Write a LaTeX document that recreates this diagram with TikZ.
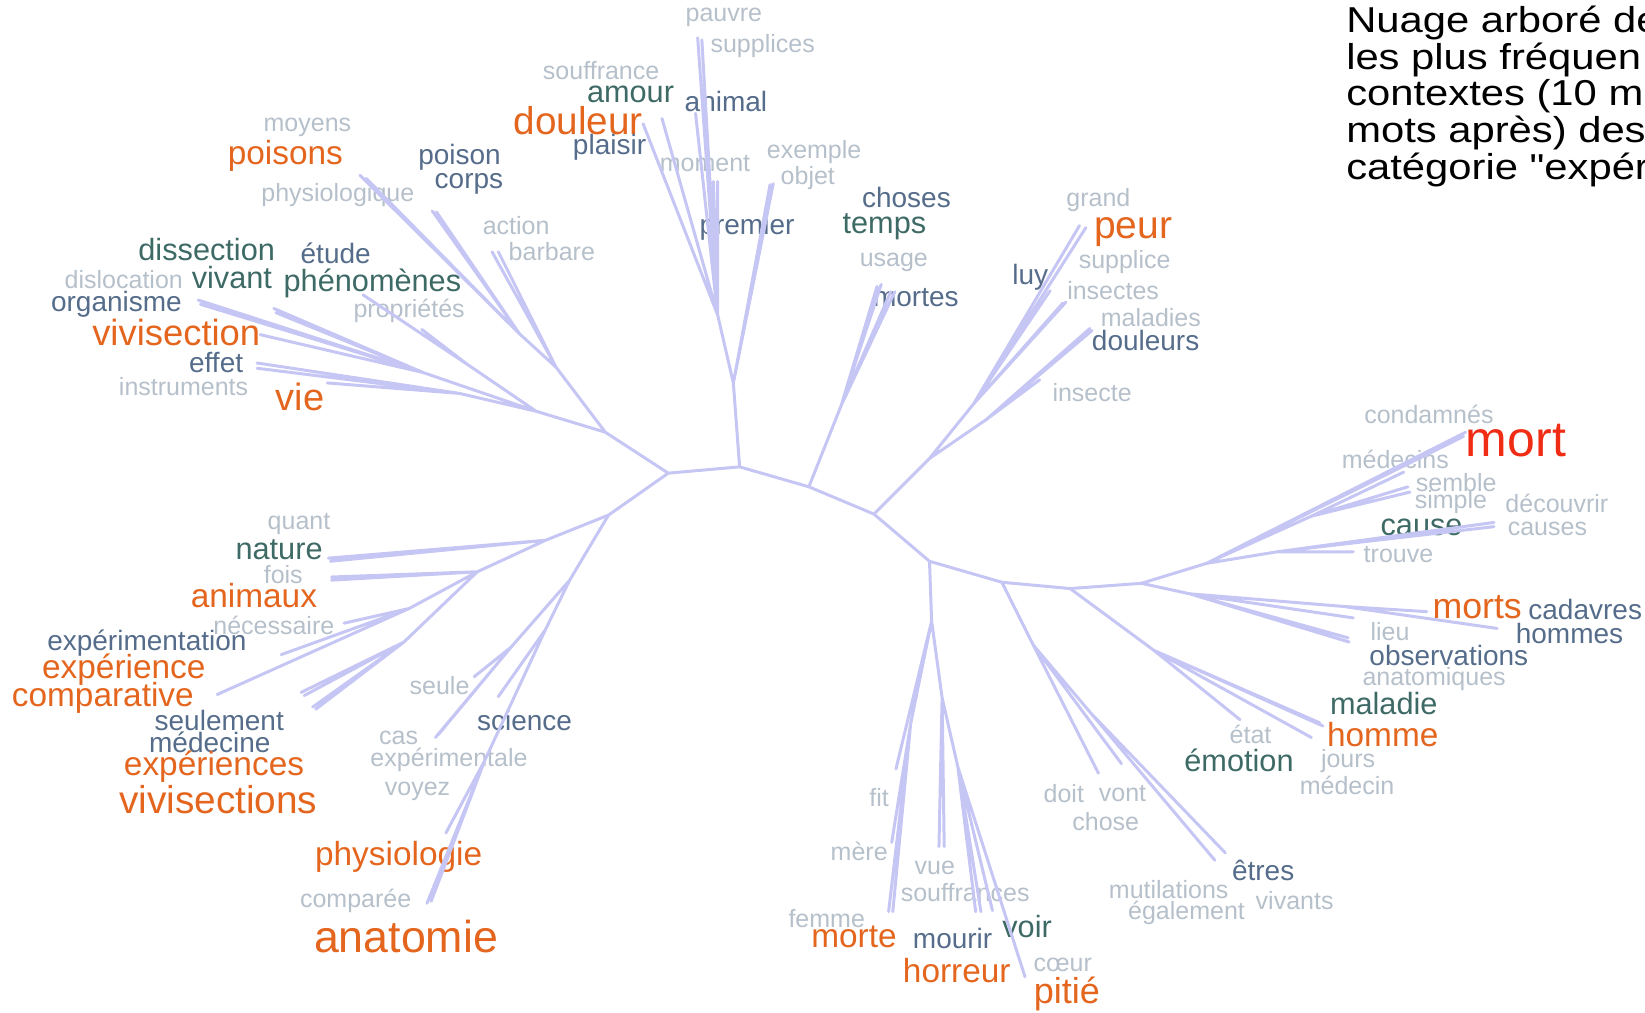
\documentclass[tikz,border=0pt]{standalone}
\usepackage{fontspec}
\setmainfont{Liberation Sans}
\newfontfamily\titlefont[Ligatures=TeXOff]{Liberation Sans}
\definecolor{branchc}{RGB}{198,198,244}
\definecolor{wgrey}{RGB}{182,192,202}
\definecolor{wslate}{RGB}{85,108,138}
\definecolor{wteal}{RGB}{62,106,102}
\definecolor{worange}{RGB}{228,102,30}
\definecolor{wred}{RGB}{240,44,20}

\begin{document}
\begin{tikzpicture}[x=1.049pt,y=-1.049pt,
 branch/.style={draw=branchc,line width=3pt,line cap=round,line join=round},
 word/.style={inner sep=0pt,outer sep=0pt},
 gry/.style={word,text=wgrey,font=\fontsize{25}{25}\selectfont},
 slt/.style={word,text=wslate,font=\fontsize{28}{28}\selectfont},
 tel/.style={word,text=wteal,font=\fontsize{30.7}{30.7}\selectfont},
 org/.style={word,text=worange,font=\fontsize{33.4}{33.4}\selectfont},
 sized/.style={font=\fontsize{#1}{#1}\selectfont},
 title/.style={anchor=base west,inner sep=0pt,xscale=1.16,font=\titlefont\fontsize{36}{40}\selectfont}]

\useasboundingbox (0,0) rectangle (1568,965);
\clip (0,0) rectangle (1568,965);

% title
\node[title] (t1) at (1283,31) {Nuage arboré de};
\node[title] (t2) at (1283,66) {les plus fréquen};
\node[title] (t3) at (1283,101) {contextes (10 m};
\node[title] (t4) at (1283,136) {mots après) des};
\node[title] (t5) at (1283,171) {catégorie "expér};

% spine
\coordinate (A) at (577,412); \coordinate (B) at (637,451); \coordinate (C) at (580,491);
\coordinate (D) at (705,445); \coordinate (E) at (771,464); \coordinate (F) at (833,490);
\coordinate (G) at (886,535); \coordinate (H) at (955,555); \coordinate (I) at (1020,561);
\coordinate (K) at (1088,556);

% upper left
\coordinate (L) at (511,392); \coordinate (U2) at (530,350); \coordinate (U1) at (495,318);
\coordinate (Lo) at (403,355); \coordinate (Lv) at (438,375); \coordinate (Lp) at (445,347);
\coordinate (ba1) at (469,240); \coordinate (ba2) at (475,240);
\coordinate (co1) at (412,201); \coordinate (co2) at (416,202);
\coordinate (po1) at (343,167); \coordinate (po2) at (349,170);
\coordinate (or1) at (189,286); \coordinate (or2) at (191,290);
\coordinate (va1) at (261,294); \coordinate (va2) at (263,298);
\coordinate (vs1) at (248,319);
\coordinate (ef1) at (245,346); \coordinate (ef2) at (245,351);
\coordinate (vi1) at (312,365);
\coordinate (ph1) at (346,281); \coordinate (pr1) at (402,314);

% upper middle
\coordinate (T1) at (699,365); \coordinate (T2) at (684,300);
\coordinate (do1) at (613,118); \coordinate (do2) at (631,113);
\coordinate (pa1) at (665,36); \coordinate (pa2) at (669,38);
\coordinate (an1) at (663,108);
\coordinate (pm1) at (680,173); \coordinate (pm2) at (684,173);
\coordinate (ob1) at (734,176); \coordinate (ob2) at (737,175);
\coordinate (M1) at (802,386);
\coordinate (us1) at (836,273); \coordinate (us2) at (840,271);
\coordinate (mo1) at (849,278); \coordinate (mo2) at (853,278);

% upper right
\coordinate (P1) at (886,437); \coordinate (P2) at (928,385); \coordinate (P3) at (940,400);
\coordinate (pe1) at (1029,215); \coordinate (pe2) at (1035,217);
\coordinate (lu1) at (1001,277);
\coordinate (in1) at (1016,288); \coordinate (in2) at (1013,289);
\coordinate (dl1) at (1039,313); \coordinate (dl2) at (1041,315);
\coordinate (ie1) at (991,362);

% right
\coordinate (R1) at (1150,537); \coordinate (R2) at (1250,492); \coordinate (R3) at (1217,526);
\coordinate (Km) at (1134,566); \coordinate (Km2) at (1280,578); \coordinate (I1) at (1100,620);
\coordinate (mt1) at (1397,412); \coordinate (mt2) at (1395,416);
\coordinate (md1) at (1338,450);
\coordinate (se1) at (1342,464); \coordinate (se2) at (1344,469);
\coordinate (ca1) at (1424,498); \coordinate (ca2) at (1424,502);
\coordinate (tr1) at (1290,526);
\coordinate (li1) at (1290,589);
\coordinate (os1) at (1285,608); \coordinate (os2) at (1286,612);
\coordinate (ms1) at (1360,583); \coordinate (hm1) at (1427,599);
\coordinate (ea1) at (1182,686);
\coordinate (ml1) at (1258,689); \coordinate (ml2) at (1261,692);
\coordinate (ho1) at (1250,703);

% lower right
\coordinate (H1) at (985,615); \coordinate (H2) at (1040,680);
\coordinate (dt1) at (1047,737); \coordinate (vt1) at (1069,728);
\coordinate (er1) at (1158,820); \coordinate (er2) at (1168,813);

% bottom
\coordinate (Bm) at (888,592); \coordinate (Bl) at (868,690);
\coordinate (Bv) at (898,665); \coordinate (Bh) at (913,731);
\coordinate (fi1) at (854,733); \coordinate (me1) at (850,803);
\coordinate (mr1) at (847,869); \coordinate (mr2) at (851,869);
\coordinate (vu1) at (895,807); \coordinate (vu2) at (900,807);
\coordinate (hr1) at (930,869); \coordinate (hr2) at (935,869);
\coordinate (vo1) at (946,868); \coordinate (pi1) at (977,931);

% lower left
\coordinate (Cn) at (520,515); \coordinate (N2) at (455,545);
\coordinate (N3) at (390,580); \coordinate (N4) at (385,612);
\coordinate (Cs) at (543,553); \coordinate (Sa) at (487,617);
\coordinate (Sb) at (520,600); \coordinate (Sc) at (462,725);
\coordinate (na1) at (313,532); \coordinate (na2) at (315,535);
\coordinate (fo1) at (316,550); \coordinate (fo2) at (316,553);
\coordinate (ne1) at (328,594); \coordinate (ex1) at (268,624);
\coordinate (cp1) at (207,662);
\coordinate (sl1) at (287,660); \coordinate (sl2) at (290,663);
\coordinate (sl3) at (298,674); \coordinate (sl4) at (301,676);
\coordinate (su1) at (452,645);
\coordinate (cs1) at (415,703); \coordinate (cs2) at (418,700);
\coordinate (sc1) at (475,664); \coordinate (vy1) at (425,794);
\coordinate (cm1) at (407,861); \coordinate (cm2) at (411,859);

% words, upper left
\node[gry] (moyens) at (293,121) {moyens};
\node[org] (poisons) at (272,149) {poisons};
\node[gry] (physiologique) at (322,186) {physiologique};
\node[slt] (poison) at (438,150) {poison};
\node[slt] (corps) at (447,175) {corps};
\node[gry] (action) at (492,215) {action};
\node[gry] (barbare) at (526,240) {barbare};
\node[tel] (dissection) at (197,238) {dissection};
\node[slt] (etude) at (320,241) {étude};
\node[gry] (dislocation) at (118,266) {dislocation};
\node[tel] (vivant) at (221,265) {vivant};
\node[tel] (phenomenes) at (355,270) {phénomènes};
\node[slt] (organisme) at (111,290) {organisme};
\node[gry] (proprietes) at (390,296) {propriétés};
\node[org,sized=36.4] (vivisection) at (168,317) {vivisection};
\node[slt] (effet) at (206,346) {effet};
\node[gry] (instruments) at (175,368) {instruments};
\node[org,sized=38] (vie) at (286,378) {vie};

% words, upper middle
\node[gry] (pauvre) at (690,17) {pauvre};
\node[gry] (supplices) at (727,44) {supplices};
\node[gry] (souffrance) at (573,67) {souffrance};
\node[tel] (amour) at (601,90) {amour};
\node[slt] (animal) at (692,97) {animal};
\node[org,sized=38.7] (douleur) at (551,115) {douleur};
\node[slt] (plaisir) at (581,140) {plaisir};
\node[gry] (moment) at (672,156) {moment};
\node[gry] (exemple) at (776,145) {exemple};
\node[gry] (objet) at (770,170) {objet};
\node[slt] (premier) at (712,217) {premier};
\node[slt] (choses) at (864,188) {choses};
\node[tel] (temps) at (843,216) {temps};
\node[gry] (usage) at (852,250) {usage};
\node[slt] (mortes) at (873,284) {mortes};

% words, upper right
\node[gry] (grand) at (1047,191) {grand};
\node[org,sized=39] (peur) at (1080,221) {peur};
\node[gry] (supplice) at (1072,250) {supplice};
\node[slt] (luy) at (982,264) {luy};
\node[gry] (insectes) at (1061,277) {insectes};
\node[gry] (maladies) at (1097,303) {maladies};
\node[slt] (douleurs) at (1092,325) {douleurs};
\node[gry] (insecte) at (1041,374) {insecte};

% words, right
\node[gry] (condamnes) at (1362,395) {condamnés};
\node[word,text=wred,sized=50] (mort) at (1445,420) {mort};
\node[gry] (medecins) at (1330,438) {médecins};
\node[gry] (semble) at (1388,460) {semble};
\node[gry] (simple) at (1383,479) {simple};
\node[gry] (decouvrir) at (1484,480) {découvrir};
\node[tel] (cause) at (1355,503) {cause};
\node[gry] (causes) at (1475,504) {causes};
\node[gry] (trouve) at (1333,529) {trouve};
\node[org,sized=35.7] (morts) at (1408,579) {morts};
\node[slt] (cadavres) at (1511,581) {cadavres};
\node[slt] (hommes) at (1496,604) {hommes};
\node[gry] (lieu) at (1325,602) {lieu};
\node[slt] (observations) at (1381,625) {observations};
\node[gry] (anatomiques) at (1367,647) {anatomiques};
\node[tel] (maladie) at (1319,671) {maladie};
\node[org] (homme) at (1318,700) {homme};
\node[gry] (etat) at (1192,700) {état};
\node[tel] (emotion) at (1181,725) {émotion};
\node[gry] (jours) at (1285,725) {jours};
\node[gry] (medecin) at (1284,749) {médecin};

% words, bottom
\node[gry] (doit) at (1014,756) {doit};
\node[gry] (vont) at (1070,756) {vont};
\node[gry] (chose) at (1054,783) {chose};
\node[slt] (etres) at (1204,830) {êtres};
\node[gry] (mutilations) at (1114,848) {mutilations};
\node[gry] (vivants) at (1234,858) {vivants};
\node[gry] (egalement) at (1131,870) {également};
\node[gry] (fit) at (838,760) {fit};
\node[gry] (mere) at (819,812) {mère};
\node[gry] (vue) at (891,827) {vue};
\node[gry] (souffrances) at (920,851) {souffrances};
\node[gry] (femme) at (788,876) {femme};
\node[org] (morte) at (814,893) {morte};
\node[slt] (mourir) at (908,895) {mourir};
\node[tel] (voir) at (979,883) {voir};
\node[org] (horreur) at (912,925) {horreur};
\node[gry] (coeur) at (1013,920) {cœur};
\node[org,sized=36] (pitie) at (1017,947) {pitié};

% words, lower left
\node[gry] (quant) at (285,499) {quant};
\node[tel] (nature) at (266,524) {nature};
\node[gry] (fois) at (270,548) {fois};
\node[org] (animaux) at (242,568) {animaux};
\node[gry] (necessaire) at (261,596) {nécessaire};
\node[slt] (experimentation) at (140,613) {expérimentation};
\node[org] (experience) at (118,638) {expérience};
\node[org] (comparative) at (98,665) {comparative};
\node[slt] (seulement) at (209,687) {seulement};
\node[slt] (medecine) at (200,708) {médecine};
\node[org] (experiences) at (204,731) {expériences};
\node[org,sized=38.8] (vivisections) at (208,762) {vivisections};
\node[gry] (seule) at (419,653) {seule};
\node[slt] (science) at (500,687) {science};
\node[gry] (cas) at (380,703) {cas};
\node[gry] (experimentale) at (428,724) {expérimentale};
\node[gry] (voyez) at (398,754) {voyez};
\node[org] (physiologie) at (380,817) {physiologie};
\node[gry] (comparee) at (339,859) {comparée};
\node[org,sized=44.7] (anatomie) at (387,893) {anatomie};

% branches
\draw[branch] (A) -- (B) -- (D) -- (E) -- (F) -- (G) -- (H) -- (I) -- (K) (B) -- (C);
\draw[branch] (A) -- (U2) -- (ba1) (U2) -- (ba2) (U2) -- (U1) -- (co1) (U1) -- (co2)
 (U1) -- (po1) (U1) -- (po2);
\draw[branch] (A) -- (L) -- (Lo) -- (or1) (Lo) -- (or2) (Lo) -- (va1) (Lo) -- (va2)
 (Lo) -- (vs1) (L) -- (Lv) -- (ef1) (Lv) -- (ef2) (Lv) -- (vi1)
 (L) -- (Lp) -- (ph1) (Lp) -- (pr1);
\draw[branch] (D) -- (T1) -- (T2) -- (do1) (T2) -- (do2) (T2) -- (pa1) (T2) -- (pa2)
 (T2) -- (an1) (T2) -- (pm1) (T2) -- (pm2) (T1) -- (ob1) (T1) -- (ob2);
\draw[branch] (E) -- (M1) -- (us1) (M1) -- (us2) (M1) -- (mo1) (M1) -- (mo2);
\draw[branch] (F) -- (P1) -- (P2) -- (pe1) (P2) -- (pe2) (P2) -- (lu1) (P2) -- (in1)
 (P2) -- (in2) (P1) -- (P3) -- (dl1) (P3) -- (dl2) (P3) -- (ie1);
\draw[branch] (K) -- (R1) -- (mt1) (R1) -- (mt2) (R1) -- (R2) -- (md1) (R2) -- (se1)
 (R2) -- (se2) (R1) -- (R3) -- (ca1) (R3) -- (ca2) (R3) -- (tr1);
\draw[branch] (K) -- (Km) -- (li1) (Km) -- (os1) (Km) -- (os2) (Km) -- (Km2) -- (ms1)
 (Km2) -- (hm1);
\draw[branch] (I) -- (I1) -- (ea1) (I1) -- (ml1) (I1) -- (ml2) (I1) -- (ho1);
\draw[branch] (H) -- (H1) -- (dt1) (H1) -- (vt1) (H1) -- (H2) -- (er1) (H2) -- (er2);
\draw[branch] (G) -- (Bm) -- (fi1) (Bm) -- (Bl) -- (me1) (Bl) -- (mr1) (Bl) -- (mr2)
 (Bm) -- (Bv) -- (vu1) (Bv) -- (vu2) (Bv) -- (Bh) -- (hr1) (Bh) -- (hr2)
 (Bh) -- (vo1) (Bh) -- (pi1);
\draw[branch] (C) -- (Cn) -- (na1) (Cn) -- (na2) (Cn) -- (N2) -- (fo1) (N2) -- (fo2)
 (N2) -- (N3) -- (ne1) (N3) -- (ex1) (N3) -- (cp1) (N2) -- (N4) -- (sl1)
 (N4) -- (sl2) (N4) -- (sl3) (N4) -- (sl4);
\draw[branch] (C) -- (Cs) -- (Sa) -- (su1) (Sa) -- (cs1) (Sa) -- (cs2)
 (Cs) -- (Sb) -- (sc1) (Sb) -- (Sc) -- (vy1) (Sc) -- (cm1) (Sc) -- (cm2);

\end{tikzpicture}
\end{document}
